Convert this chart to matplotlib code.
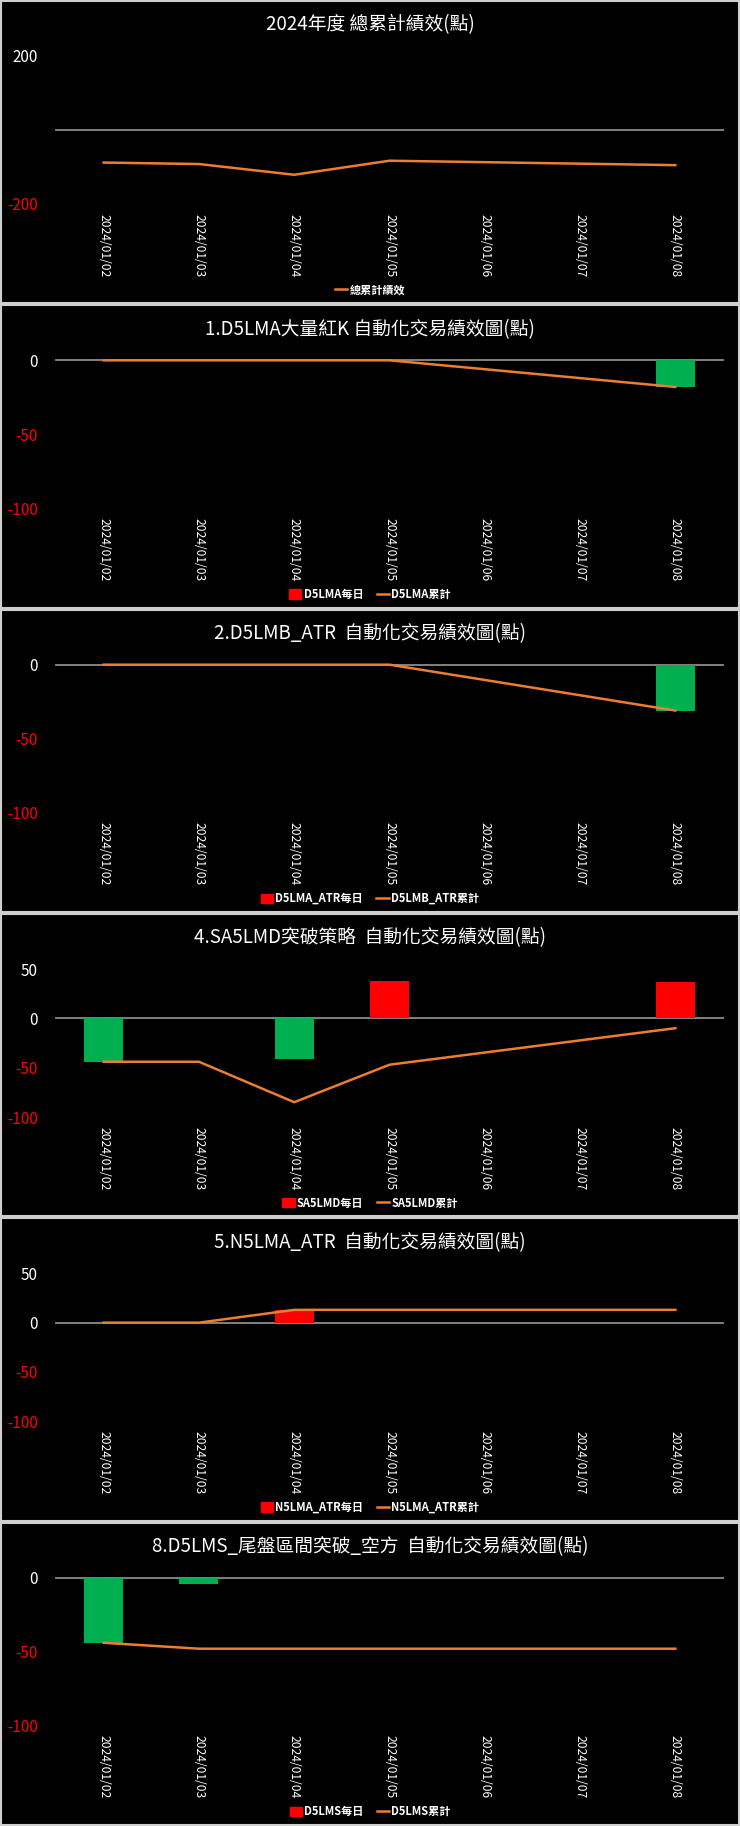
import matplotlib as mpl
mpl.use('Agg')
import numpy as np
import matplotlib.pyplot as plt
from matplotlib.patches import Patch, Rectangle
from matplotlib.lines import Line2D

plt.rcParams['font.family'] = ['Noto Sans CJK TC', 'DejaVu Sans']

nan = np.nan
dates = ['2024/01/02', '2024/01/03', '2024/01/04', '2024/01/05',
         '2024/01/06', '2024/01/07', '2024/01/08']

# total cumulative (no bars)
total_cum = [-88, -92, -121, -83, nan, nan, -95]

d5lma_daily = [0, 0, 0, 0, nan, nan, -18]
d5lma_cum = [0, 0, 0, 0, nan, nan, -18]

d5lmb_daily = [0, 0, 0, 0, nan, nan, -31]
d5lmb_cum = [0, 0, 0, 0, nan, nan, -31]

sa5lmd_daily = [-44, 0, -41, 38, nan, nan, 37]
sa5lmd_cum = [-44, -44, -85, -47, nan, nan, -10]

n5lma_daily = [0, 0, 13, 0, nan, nan, 0]
n5lma_cum = [0, 0, 13, 13, nan, nan, 13]

d5lms_daily = [-44, -4, 0, 0, nan, nan, 0]
d5lms_cum = [-44, -48, -48, -48, nan, nan, -48]

W, H = 740, 1826
PH = H / 6.0
ORANGE = '#ed7d31'
GREEN = '#00b050'
RED = '#ff0000'
NEG = '#ff0000'

fig = plt.figure(figsize=(W / 100, H / 100), dpi=100, facecolor='black')


def draw_panel(i, title, daily, cum, bar_lab, line_lab, ylim, yticks):
    top = i * PH  # pixel from top
    # border of the chart
    fig.add_artist(Rectangle((1 / W, 1 - (top + PH - 1) / H), (W - 2) / W, (PH - 2) / H,
                             transform=fig.transFigure, fill=False,
                             edgecolor='#cfcfcf', lw=1.5))
    ax = fig.add_axes([56 / W, 1 - (top + 204) / H, 667 / W, 148 / H])
    ax.set_facecolor('black')
    for s in ax.spines.values():
        s.set_visible(False)
    x = np.arange(len(dates))
    ax.axhline(0, color='#8c8c8c', lw=1.3, zorder=1, clip_on=False)
    handles = []
    if daily is not None:
        d = np.array(daily, dtype=float)
        m = np.isfinite(d)
        cols = [GREEN if v < 0 else RED for v in d[m]]
        ax.bar(x[m], d[m], width=0.41, color=cols, zorder=2)
        handles.append(Patch(color=RED, label=bar_lab))
    c = np.array(cum, dtype=float)
    m = np.isfinite(c)
    ax.plot(x[m], c[m], color=ORANGE, lw=1.8, zorder=3, clip_on=False)
    handles.append(Line2D([], [], color=ORANGE, lw=1.8, label=line_lab))
    ax.set_xlim(-0.5, len(dates) - 0.5)
    ax.set_ylim(*ylim)
    ax.set_yticks(yticks)
    ax.set_yticklabels([str(v) for v in yticks], fontsize=11)
    for lab, v in zip(ax.get_yticklabels(), yticks):
        lab.set_color(NEG if v < 0 else 'white')
    ax.set_xticks(x)
    ax.set_xticklabels(dates, rotation=-90, fontsize=8.7, color='white')
    ax.tick_params(axis='x', length=0, pad=7)
    ax.tick_params(axis='y', length=0, pad=13)
    fig.text(0.5, 1 - (top + 25) / H, title, color='white', fontsize=13.5,
             fontweight='medium', ha='center', va='center')
    fig.legend(handles=handles, loc='center', ncol=2, frameon=False,
               bbox_to_anchor=(0.5, 1 - (top + 290) / H),
               prop={'size': 8, 'weight': 'bold'}, labelcolor='white',
               handlelength=1.1, handletextpad=0.2, columnspacing=1.2,
               handleheight=0.9)


draw_panel(0, '2024年度 總累計績效(點)', None, total_cum, None, '總累計績效',
           (-200, 200), [-200, 200])
draw_panel(1, '1.D5LMA大量紅K 自動化交易績效圖(點)', d5lma_daily, d5lma_cum,
           'D5LMA每日', 'D5LMA累計', (-100, 0), [-100, -50, 0])
draw_panel(2, '2.D5LMB_ATR  自動化交易績效圖(點)', d5lmb_daily, d5lmb_cum,
           'D5LMA_ATR每日', 'D5LMB_ATR累計', (-100, 0), [-100, -50, 0])
draw_panel(3, '4.SA5LMD突破策略  自動化交易績效圖(點)', sa5lmd_daily, sa5lmd_cum,
           'SA5LMD每日', 'SA5LMD累計', (-100, 50), [-100, -50, 0, 50])
draw_panel(4, '5.N5LMA_ATR  自動化交易績效圖(點)', n5lma_daily, n5lma_cum,
           'N5LMA_ATR每日', 'N5LMA_ATR累計', (-100, 50), [-100, -50, 0, 50])
draw_panel(5, '8.D5LMS_尾盤區間突破_空方  自動化交易績效圖(點)', d5lms_daily, d5lms_cum,
           'D5LMS每日', 'D5LMS累計', (-100, 0), [-100, -50, 0])

fig.savefig('out.png', dpi=100, facecolor='black')
